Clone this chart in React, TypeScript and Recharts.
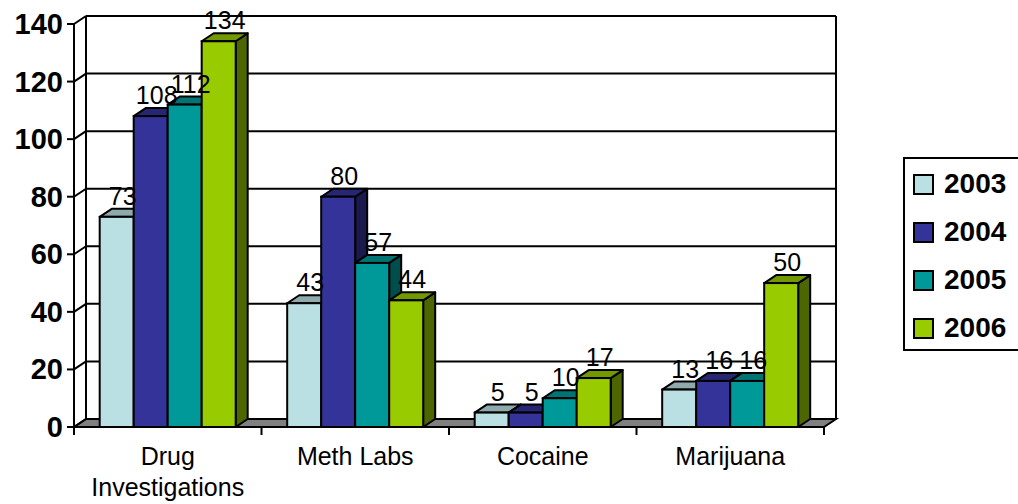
import React from 'react';
import { BarChart, Bar, XAxis, YAxis, CartesianGrid, Legend, LabelList } from 'recharts';

const categories = ['Drug Investigations', 'Meth Labs', 'Cocaine', 'Marijuana'];
const seriesNames = ['2003', '2004', '2005', '2006'];
const values2003 = [73, 43, 5, 13];
const values2004 = [108, 80, 5, 16];
const values2005 = [112, 57, 10, 16];
const values2006 = [134, 44, 17, 50];
const yTicks = [0, 20, 40, 60, 80, 100, 120, 140];

const frontColors = ['#BBE0E3', '#333399', '#009999', '#99CC00'];
const topColors = ['#8FAAAD', '#262673', '#007373', '#739900'];
const sideColors = ['#5E7072', '#1A1A4D', '#004D4D', '#4D6600'];

const DX = 12;
const DY = -8;
const FONT = 'Liberation Sans, Arial, sans-serif';

const seriesValues = [values2003, values2004, values2005, values2006];
const data = categories.map((name, i) => {
  const row: any = { name };
  seriesNames.forEach((s, k) => {
    row['y' + s] = seriesValues[k][i];
  });
  return row;
});

function makeBarShape(k: number) {
  return (props: any) => {
    const { x, y, width, height } = props;
    if (width == null || height == null) return <g />;
    const front = frontColors[k];
    const top = topColors[k];
    const side = sideColors[k];
    const sw = 2;
    return (
      <g>
        <polygon
          points={`${x + width},${y} ${x + width + DX},${y + DY} ${x + width + DX},${y + height + DY} ${x + width},${y + height}`}
          fill={side}
          stroke="#000"
          strokeWidth={sw}
          strokeLinejoin="round"
        />
        <polygon
          points={`${x},${y} ${x + DX},${y + DY} ${x + width + DX},${y + DY} ${x + width},${y}`}
          fill={top}
          stroke="#000"
          strokeWidth={sw}
          strokeLinejoin="round"
        />
        <rect x={x} y={y} width={width} height={height} fill={front} stroke="#000" strokeWidth={sw} />
      </g>
    );
  };
}

const renderValueLabel = (props: any) => {
  const { x, y, width, value } = props;
  return (
    <text
      x={x + width / 2 + DX / 2}
      y={y - 12}
      textAnchor="middle"
      fontSize={25}
      fontFamily={FONT}
      fill="#000"
    >
      {value}
    </text>
  );
};

const renderGridLine = (props: any) => {
  const { x1, y1, x2, y, height, index } = props;
  const bottom = y + height;
  const isBottom = Math.abs(y1 - bottom) < 0.5;
  const isTop = Math.abs(y1 - y) < 0.5;
  return (
    <g key={'g' + index + '-' + y1}>
      {isBottom ? (
        <polygon
          points={`${x1},${y1} ${x2},${y1} ${x2 + DX},${y1 + DY} ${x1 + DX},${y1 + DY}`}
          fill="#808080"
          stroke="#000"
          strokeWidth={2}
        />
      ) : (
        <line x1={x1 + DX} y1={y1 + DY} x2={x2 + DX} y2={y1 + DY} stroke="#000" strokeWidth={2} />
      )}
      <line x1={x1} y1={y1} x2={x1 + DX} y2={y1 + DY} stroke="#000" strokeWidth={2} />
      {isTop && (
        <>
          <line x1={x1 + DX} y1={y1 + DY} x2={x1 + DX} y2={bottom + DY} stroke="#000" strokeWidth={2} />
          <line x1={x2 + DX} y1={y1 + DY} x2={x2 + DX} y2={bottom + DY} stroke="#000" strokeWidth={2} />
        </>
      )}
    </g>
  );
};

const YTick = (props: any) => {
  const { x, y, payload } = props;
  return (
    <text x={x} y={y + 10} textAnchor="end" fontSize={29} fontWeight="bold" fontFamily={FONT} fill="#000">
      {payload.value}
    </text>
  );
};

const XTick = (props: any) => {
  const { x, y, payload, index, visibleTicksCount } = props;
  const off = payload.offset || 0;
  const text: string = String(payload.value);
  const lines = text.length > 12 ? text.split(' ') : [text];
  const last = index === (visibleTicksCount ?? categories.length) - 1;
  return (
    <g>
      <line x1={x - off} y1={y} x2={x - off} y2={y + 8} stroke="#000" strokeWidth={2} />
      {last && <line x1={x + off} y1={y} x2={x + off} y2={y + 8} stroke="#000" strokeWidth={2} />}
      <text textAnchor="middle" fontSize={25} fontFamily={FONT} fill="#000">
        {lines.map((l, i) => (
          <tspan key={i} x={x} y={y + 38 + i * 31}>
            {l}
          </tspan>
        ))}
      </text>
    </g>
  );
};

const LegendContent = () => (
  <div
    style={{
      border: '2px solid #000',
      width: 130,
      height: 194,
      boxSizing: 'border-box',
      background: '#fff',
      paddingTop: 1,
    }}
  >
    {seriesNames.map((s, k) => (
      <div key={s} style={{ display: 'flex', alignItems: 'center', height: 48, paddingLeft: 8 }}>
        <div
          style={{
            width: 21,
            height: 21,
            boxSizing: 'border-box',
            border: '2px solid #000',
            background: frontColors[k],
            marginRight: 10,
          }}
        />
        <span style={{ fontFamily: FONT, fontWeight: 'bold', fontSize: 28, lineHeight: '28px', color: '#000' }}>{s}</span>
      </div>
    ))}
  </div>
);

export default function App() {
  return (
    <div style={{ position: 'absolute', left: 0, top: 0, width: 1018, height: 504, background: '#fff', overflow: 'hidden' }}>
      <BarChart
        width={1018}
        height={504}
        data={data}
        margin={{ top: 24, right: 194, bottom: 0, left: 0 }}
        barCategoryGap="13.7%"
        barGap={0}
      >
        <CartesianGrid horizontal={renderGridLine} vertical={false} />
        <XAxis
          dataKey="name"
          height={77}
          tickSize={0}
          tickMargin={0}
          tick={<XTick />}
          axisLine={{ stroke: '#000', strokeWidth: 2 }}
          tickLine={false}
          interval={0}
        />
        <YAxis
          width={74}
          domain={[0, 140]}
          ticks={yTicks}
          tickSize={7}
          tickMargin={4}
          tick={<YTick />}
          axisLine={{ stroke: '#000', strokeWidth: 2 }}
          tickLine={{ stroke: '#000', strokeWidth: 2 }}
          interval={0}
        />
        <Legend
          layout="horizontal"
          verticalAlign="middle"
          align="center"
          content={<LegendContent />}
          wrapperStyle={{ position: 'absolute', left: 903, top: 157, width: 130, height: 194 }}
        />
        {seriesNames.map((s, k) => (
          <Bar key={s} dataKey={'y' + s} name={s} fill={frontColors[k]} isAnimationActive={false} shape={makeBarShape(k)}>
            <LabelList dataKey={'y' + s} content={renderValueLabel} />
          </Bar>
        ))}
      </BarChart>
    </div>
  );
}
